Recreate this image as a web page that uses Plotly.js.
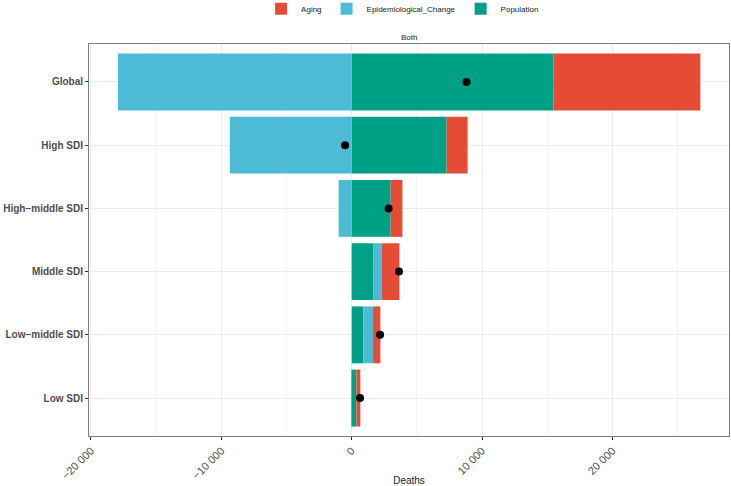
<!DOCTYPE html>
<html>
<head>
<meta charset="utf-8">
<script src="https://cdn.plot.ly/plotly-3.0.1.min.js"></script>
<style>
  html, body { margin: 0; padding: 0; background: #fff; }
  #chart { width: 731px; height: 486px; }
</style>
</head>
<body>
<div id="chart"></div>
<script>
// regions, top to bottom
const regions = ['Global', 'High SDI', 'High\u2212middle SDI', 'Middle SDI', 'Low\u2212middle SDI', 'Low SDI'];

// decomposition of change in deaths
const population = [15480, 7280, 2990, 1640, 900, 360];
const epidemiological = [-17930, -9350, -1000, 660, 740, -20];
const aging = [11260, 1610, 900, 1360, 560, 300];
const netChange = [8810, -510, 2830, 3630, 2180, 640];

const xTickVals = [-20000, -10000, 0, 10000, 20000];
const xTickText = ['\u221220 000', '\u221210 000', '0', '10 000', '20 000'];

const colors = { Aging: '#E64B35', Epidemiological_Change: '#4DBBD5', Population: '#00A087' };

function barTrace(name, values) {
    return {
        type: 'bar',
        orientation: 'h',
        name: name,
        y: regions,
        x: values,
        marker: { color: colors[name], line: { width: 0 } },
        hoverinfo: 'x+y+name'
    };
}

const traces = [
    barTrace('Population', population),
    barTrace('Epidemiological_Change', epidemiological),
    barTrace('Aging', aging),
    {
        type: 'scatter',
        mode: 'markers',
        y: regions,
        x: netChange,
        marker: { color: '#000000', size: 8 },
        showlegend: false,
        hoverinfo: 'x+y'
    }
];

const layout = {
    width: 731,
    height: 486,
    margin: { l: 89, r: 2, t: 44, b: 50 },
    paper_bgcolor: '#ffffff',
    plot_bgcolor: '#ffffff',
    barmode: 'relative',
    bargap: 0.1,
    font: { family: 'Liberation Sans, Arial, sans-serif', color: '#1A1A1A', size: 8 },
    showlegend: true,
    legend: {
        orientation: 'h',
        traceorder: 'reversed',
        x: 0.49, xanchor: 'center',
        yref: 'container', y: 0.982, yanchor: 'middle',
        font: { size: 8, color: '#1A1A1A' },
        itemwidth: 30,
        bgcolor: 'rgba(0,0,0,0)'
    },
    xaxis: {
        range: [-20150, 28940],
        tickvals: xTickVals,
        ticktext: xTickText,
        tickangle: -45,
        tickfont: { size: 11, color: '#4D4D4D' },
        ticks: 'outside',
        ticklen: 3,
        tickcolor: '#333333',
        showgrid: true,
        gridcolor: '#EBEBEB',
        gridwidth: 1,
        minor: { dtick: 5000, tick0: 0, showgrid: true, gridcolor: '#F4F4F4', gridwidth: 1 },
        zeroline: false,
        showline: true,
        linecolor: '#7F7F7F',
        linewidth: 1,
        mirror: true,
        title: { text: 'Deaths', font: { size: 10, color: '#1A1A1A' }, standoff: 2 }
    },
    yaxis: {
        type: 'category',
        categoryorder: 'array',
        categoryarray: regions,
        range: [5.6, -0.6],
        tickfont: { size: 10, color: '#4D4D4D', weight: 'bold' },
        ticks: 'outside',
        ticklen: 3,
        tickcolor: '#333333',
        showgrid: true,
        gridcolor: '#EBEBEB',
        zeroline: false,
        showline: true,
        linecolor: '#7F7F7F',
        linewidth: 1,
        mirror: true
    },
    annotations: [{
        text: 'Both',
        xref: 'paper', yref: 'paper',
        x: 0.5, y: 1, yshift: 7,
        xanchor: 'center', yanchor: 'middle',
        showarrow: false,
        font: { size: 8, color: '#1A1A1A' }
    }]
};

Plotly.newPlot('chart', traces, layout, { displayModeBar: false, responsive: false });
</script>
</body>
</html>
